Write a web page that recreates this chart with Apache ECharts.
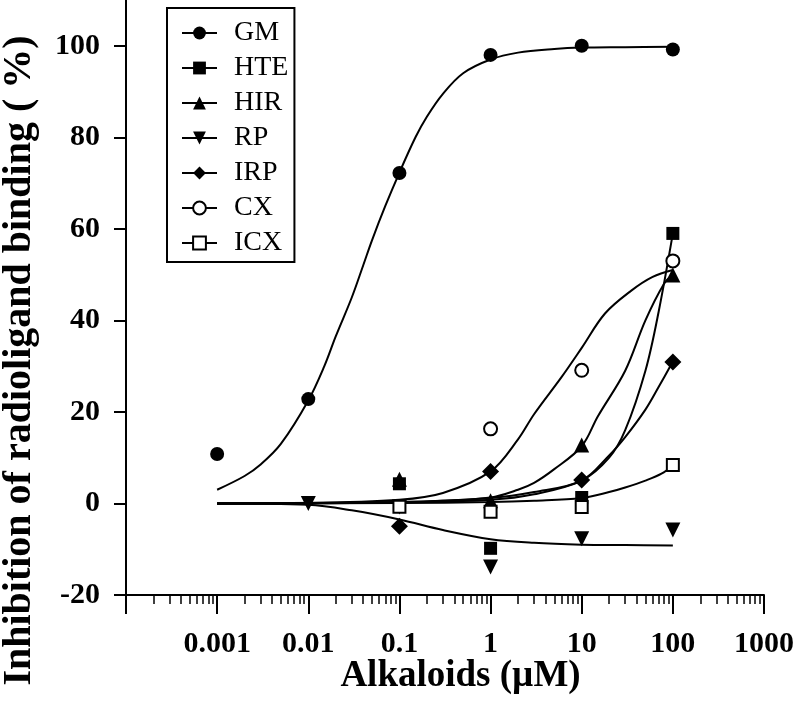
<!DOCTYPE html>
<html>
<head>
<meta charset="utf-8">
<script src="https://cdn.jsdelivr.net/npm/echarts@6/dist/echarts.min.js"></script>
<style>
html,body{margin:0;padding:0;background:#fff;}
#chart{width:796px;height:715px;}
</style>
</head>
<body>
<div id="chart"></div>
<script>
// ---- data ----
const seriesNames = ['GM', 'HTE', 'HIR', 'RP', 'IRP', 'CX', 'ICX'];

// measured points: concentrations (µM) and inhibition (%)
const gmX  = [0.001, 0.01, 0.1, 1, 10, 100];
const gmY  = [10.8, 22.8, 72.2, 98.0, 100.0, 99.2];
const hteX = [0.1, 1, 10, 100];
const hteY = [4.3, -9.8, 1.3, 59.0];
const hirX = [0.1, 1, 10, 100];
const hirY = [5.3, 0.6, 12.8, 49.9];
const rpX  = [0.01, 0.1, 1, 10, 100];
const rpY  = [0.0, -0.8, -13.9, -7.7, -5.8];
const irpX = [0.1, 1, 10, 100];
const irpY = [-5.0, 7.0, 5.1, 30.9];
const cxX  = [1, 10, 100];
const cxY  = [16.3, 29.1, 53.0];
const icxX = [0.1, 1, 10, 100];
const icxY = [-0.7, -1.8, -0.8, 8.4];

// fitted curves
const gmFitX  = [0.001, 0.002, 0.003, 0.005, 0.01, 0.015, 0.02, 0.03, 0.04, 0.05, 0.07, 0.1, 0.15, 0.2, 0.3, 0.5, 1, 2, 5, 10, 30, 100];
const gmFitY  = [3, 6, 8.5, 13, 22.5, 30, 36.5, 45, 52, 57.5, 65, 72.3, 80, 84.5, 89.5, 94, 97, 98.5, 99.3, 99.6, 99.7, 99.8];
const hteFitX = [0.001, 0.1, 1, 3, 10, 20, 30, 50, 70, 100];
const hteFitY = [0, 0.2, 0.8, 2, 5, 10, 16, 29, 42, 59];
const hirFitX = [0.001, 0.1, 0.3, 1, 2, 3, 5, 10, 15, 30, 50, 80, 100];
const hirFitY = [0, 0.3, 0.6, 1.3, 3, 4.5, 7.5, 12.5, 19, 29, 40, 48, 50];
const rpFitX  = [0.001, 0.01, 0.03, 0.1, 0.3, 1, 3, 10, 30, 100];
const rpFitY  = [0, -0.3, -1.5, -3.5, -5.8, -7.8, -8.6, -9, -9.1, -9.2];
const irpFitX = [0.001, 0.1, 1, 3, 10, 20, 30, 50, 70, 100];
const irpFitY = [0, 0.3, 1.2, 2.5, 5, 10.5, 14.5, 20.5, 25.5, 31];
const cxFitX  = [0.001, 0.01, 0.1, 0.3, 1, 2, 3, 6, 10, 18, 35, 60, 100];
const cxFitY  = [0, 0.1, 0.8, 2.3, 7, 14, 19.5, 27.6, 34, 41.5, 46.5, 49.5, 51];
const icxFitX = [0.001, 0.1, 1, 3, 10, 20, 30, 50, 75, 100];
const icxFitY = [0, 0.1, 0.3, 0.6, 1.2, 2.5, 3.5, 5, 6.5, 8.3];

// axis ticks
const xMajorTicks = [0.0001, 0.001, 0.01, 0.1, 1, 10, 100, 1000];
const xTickValues = [0.001, 0.01, 0.1, 1, 10, 100, 1000];
const xTickLabels = ['0.001', '0.01', '0.1', '1', '10', '100', '1000'];
const yTickValues = [-20, 0, 20, 40, 60, 80, 100];

// ---- build ----
const zip = (xs, ys) => xs.map((x, i) => [x, ys[i]]);
const xMinorTicks = [];
for (let e = -4; e <= 2; e++) for (let k = 2; k <= 9; k++) xMinorTicks.push(k * Math.pow(10, e));

const serif = 'Liberation Serif, Times New Roman, serif';
const markers = {
  GM:  {x: gmX,  y: gmY,  symbol: 'circle',      size: 14, rot: 0},
  HTE: {x: hteX, y: hteY, symbol: 'rect',        size: 13, rot: 0},
  HIR: {x: hirX, y: hirY, symbol: 'triangle',    size: 15, rot: 0},
  RP:  {x: rpX,  y: rpY,  symbol: 'triangle',    size: 15, rot: 180},
  IRP: {x: irpX, y: irpY, symbol: 'diamond',     size: 17, rot: 0},
  CX:  {x: cxX,  y: cxY,  symbol: 'emptyCircle', size: 13, rot: 0},
  ICX: {x: icxX, y: icxY, symbol: 'emptyRect',   size: 12, rot: 0}
};
const fits = [
  [gmFitX, gmFitY], [hteFitX, hteFitY], [hirFitX, hirFitY], [rpFitX, rpFitY],
  [irpFitX, irpFitY], [cxFitX, cxFitY], [icxFitX, icxFitY]
];

const series = [];
fits.forEach((f, i) => {
  series.push({
    name: seriesNames[i] + ' fit', type: 'line', xAxisIndex: 0, yAxisIndex: 0,
    data: zip(f[0], f[1]), smooth: 0.35, showSymbol: false, symbol: 'none',
    lineStyle: {color: '#000', width: 2}, silent: true, z: 2, animation: false
  });
});
seriesNames.forEach(n => {
  const m = markers[n];
  series.push({
    name: n, type: 'line', xAxisIndex: 0, yAxisIndex: 0,
    data: zip(m.x, m.y), symbol: m.symbol, symbolSize: m.size, symbolRotate: m.rot,
    showSymbol: true, showAllSymbol: true,
    itemStyle: {color: '#000', borderWidth: m.symbol.indexOf('empty') === 0 ? 2 : 0},
    lineStyle: {width: 0, opacity: 0},
    z: 5, animation: false
  });
});

const chart = echarts.init(document.getElementById('chart'), null, {renderer: 'canvas'});
chart.setOption({
  backgroundColor: '#fff',
  animation: false,
  grid: {left: 126, right: 32, top: 0, bottom: 120, containLabel: false, outerBoundsMode: 'none'},
  legend: {
    data: seriesNames, orient: 'vertical', left: 167, top: 8,
    padding: [11, 6, 5, 14], itemWidth: 35, itemHeight: 16, itemGap: 7,
    borderColor: '#000', borderWidth: 2, backgroundColor: '#fff',
    textStyle: {fontFamily: serif, fontSize: 28, color: '#000', padding: [0, 0, 0, 12]},
    lineStyle: {width: 2, color: '#000', opacity: 1},
    selectedMode: false
  },
  xAxis: [{
    type: 'log', logBase: 10, min: 0.0001, max: 1000,
    name: 'Alkaloids (µM)', nameLocation: 'middle', nameGap: 63, nameMoveOverlap: false,
    nameTextStyle: {fontFamily: serif, fontWeight: 'bold', fontSize: 37, color: '#000', padding: [0, 0, 0, 31]},
    axisLine: {show: true, onZero: false, lineStyle: {color: '#000', width: 2}},
    axisTick: {show: true, inside: false, length: 19, lineStyle: {color: '#000', width: 2}, customValues: xMajorTicks},
    axisLabel: {show: true, margin: 34, fontFamily: serif, fontWeight: 'bold', fontSize: 30, color: '#000',
      customValues: xTickValues,
      formatter: v => {
        const i = xTickValues.findIndex(t => Math.abs(Math.log10(t) - Math.log10(v)) < 1e-6);
        return i >= 0 ? xTickLabels[i] : '';
      }},
    splitLine: {show: false}, minorTick: {show: false}
  }, {
    type: 'log', logBase: 10, min: 0.0001, max: 1000, position: 'bottom', gridIndex: 0,
    axisLine: {show: false, onZero: false},
    axisTick: {show: true, inside: false, length: 9, lineStyle: {color: '#000', width: 1.5}, customValues: xMinorTicks},
    axisLabel: {show: false}, splitLine: {show: false}
  }],
  yAxis: {
    type: 'value', min: -20, max: 110, interval: 20,
    name: 'Inhibition of radioligand binding ( %)', nameLocation: 'middle', nameRotate: 90, nameGap: 86, nameMoveOverlap: false,
    nameTextStyle: {fontFamily: serif, fontWeight: 'bold', fontSize: 40, color: '#000', padding: [0, 126, 0, 0]},
    axisLine: {show: true, onZero: false, lineStyle: {color: '#000', width: 2}},
    axisTick: {show: true, inside: false, length: 12, lineStyle: {color: '#000', width: 2}, customValues: yTickValues},
    axisLabel: {margin: 26, fontFamily: serif, fontWeight: 'bold', fontSize: 30, color: '#000', customValues: yTickValues},
    splitLine: {show: false}
  },
  series: series
});
</script>
</body>
</html>
